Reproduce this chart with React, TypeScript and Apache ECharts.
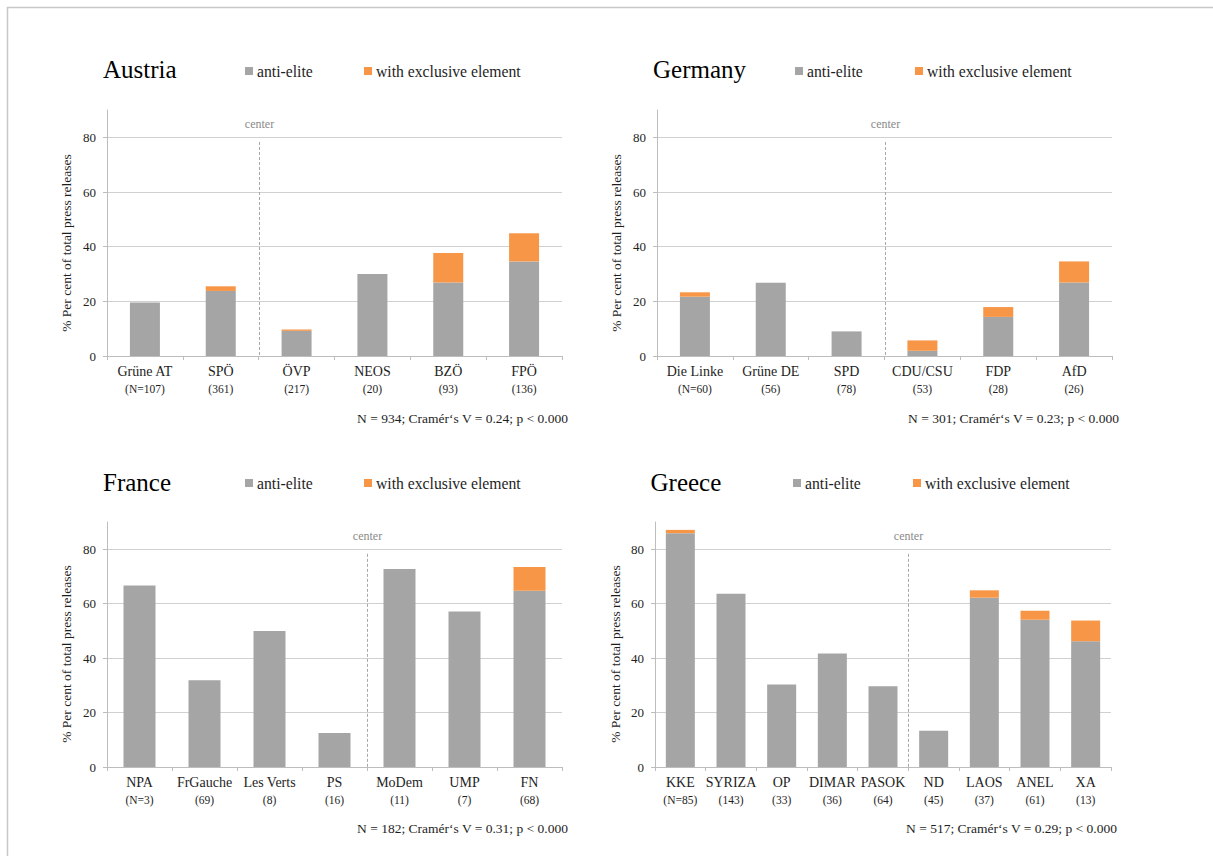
import React, { useEffect, useRef } from "react";
import * as echarts from "echarts";

// ---------- DATA ----------
const austriaParties = ["Grüne AT", "SPÖ", "ÖVP", "NEOS", "BZÖ", "FPÖ"];
const austriaN = ["(N=107)", "(361)", "(217)", "(20)", "(93)", "(136)"];
const austriaAntiElite = [19.6, 23.8, 9.2, 30.0, 26.9, 34.6];
const austriaExclusive = [0, 1.7, 0.5, 0, 10.8, 10.3];
const austriaNote = "N = 934; Cramér‘s V = 0.24; p < 0.000";

const germanyParties = ["Die Linke", "Grüne DE", "SPD", "CDU/CSU", "FDP", "AfD"];
const germanyN = ["(N=60)", "(56)", "(78)", "(53)", "(28)", "(26)"];
const germanyAntiElite = [21.7, 26.8, 9.0, 1.9, 14.3, 26.9];
const germanyExclusive = [1.6, 0, 0, 3.8, 3.6, 7.7];
const germanyNote = "N = 301; Cramér‘s V = 0.23; p < 0.000";

const franceParties = ["NPA", "FrGauche", "Les Verts", "PS", "MoDem", "UMP", "FN"];
const franceN = ["(N=3)", "(69)", "(8)", "(16)", "(11)", "(7)", "(68)"];
const franceAntiElite = [66.7, 31.9, 50.0, 12.5, 72.7, 57.1, 64.7];
const franceExclusive = [0, 0, 0, 0, 0, 0, 8.8];
const franceNote = "N = 182; Cramér‘s V = 0.31; p < 0.000";

const greeceParties = ["KKE", "SYRIZA", "OP", "DIMAR", "PASOK", "ND", "LAOS", "ANEL", "XA"];
const greeceN = ["(N=85)", "(143)", "(33)", "(36)", "(64)", "(45)", "(37)", "(61)", "(13)"];
const greeceAntiElite = [85.9, 63.6, 30.3, 41.7, 29.7, 13.3, 62.2, 54.1, 46.2];
const greeceExclusive = [1.2, 0, 0, 0, 0, 0, 2.7, 3.3, 7.6];
const greeceNote = "N = 517; Cramér‘s V = 0.29; p < 0.000";

const yTicks = [0, 20, 40, 60, 80];
const seriesNames = ["anti-elite", "with exclusive element"];
const yAxisTitle = "% Per cent of total press releases";
const centerLabel = "center";

// ---------- LAYOUT ----------
const FONT = "'Liberation Serif', 'Times New Roman', serif";
const GREY = "#a5a5a5";
const ORANGE = "#f79646";

const panels = [
  {
    name: "Austria", cats: austriaParties, ns: austriaN, anti: austriaAntiElite, excl: austriaExclusive, note: austriaNote,
    centerAfter: 1,
    grid: { left: 107, top: 110, width: 455, height: 246 },
    title: { left: 103, top: 57 }, legendY: 63, legendX: [245, 364],
    yName: [66.5, 243], noteXY: [568, 418], barWidth: 30,
  },
  {
    name: "Germany", cats: germanyParties, ns: germanyN, anti: germanyAntiElite, excl: germanyExclusive, note: germanyNote,
    centerAfter: 2,
    grid: { left: 657, top: 110, width: 455, height: 246 },
    title: { left: 653, top: 57 }, legendY: 63, legendX: [795, 915],
    yName: [616.5, 243], noteXY: [1119, 418], barWidth: 30,
  },
  {
    name: "France", cats: franceParties, ns: franceN, anti: franceAntiElite, excl: franceExclusive, note: franceNote,
    centerAfter: 3,
    grid: { left: 107, top: 522, width: 455, height: 245 },
    title: { left: 103, top: 469.5 }, legendY: 475, legendX: [245, 364],
    yName: [66.5, 654], noteXY: [568, 828.5], barWidth: 32,
  },
  {
    name: "Greece", cats: greeceParties, ns: greeceN, anti: greeceAntiElite, excl: greeceExclusive, note: greeceNote,
    centerAfter: 4,
    grid: { left: 655, top: 522, width: 456, height: 245 },
    title: { left: 650.5, top: 469.5 }, legendY: 475, legendX: [793, 913],
    yName: [615, 654], noteXY: [1117, 828.5], barWidth: 29,
  },
];

export default function App() {
  const ref = useRef<HTMLDivElement>(null);

  useEffect(() => {
    if (!ref.current) return;
    const chart = echarts.init(ref.current, undefined, { renderer: "svg" });

    const grids: any[] = [];
    const xAxes: any[] = [];
    const yAxes: any[] = [];
    const series: any[] = [];
    const titles: any[] = [];
    const legends: any[] = [];

    panels.forEach((p, i) => {
      grids.push({ ...p.grid, containLabel: false });
      xAxes.push({
        type: "category",
        gridIndex: i,
        data: p.cats,
        boundaryGap: true,
        axisLine: { show: true, lineStyle: { color: "#bdbdbd", width: 1 } },
        axisTick: { show: true, length: 4, lineStyle: { color: "#bdbdbd" } },
        axisLabel: {
          interval: 0,
          margin: 7,
          color: "#1e1e1e",
          fontFamily: FONT,
          formatter: (v: string, idx: number) => `{a|${v}}\n{b|${p.ns[idx]}}`,
          rich: {
            a: { fontSize: 14, lineHeight: 17, fontFamily: FONT, color: "#1e1e1e" },
            b: { fontSize: 11.5, lineHeight: 17, fontFamily: FONT, color: "#1e1e1e" },
          },
        },
        splitLine: { show: false },
      });
      yAxes.push({
        type: "value",
        gridIndex: i,
        min: yTicks[0],
        max: 90,
        interval: yTicks[1] - yTicks[0],
        axisLine: { show: true, lineStyle: { color: "#bdbdbd", width: 1 } },
        axisTick: { show: true, length: 4, lineStyle: { color: "#bdbdbd" } },
        axisLabel: {
          margin: 11,
          fontSize: 13,
          color: "#1e1e1e",
          fontFamily: FONT,
          showMaxLabel: false,
          formatter: (v: number) => (yTicks.includes(v) ? String(v) : ""),
        },
        splitLine: { show: true, showMaxLine: false, showMinLine: false, lineStyle: { color: "#d0d0d0", width: 1 } },
      });
      series.push({
        name: seriesNames[0],
        type: "bar",
        stack: "s" + i,
        xAxisIndex: i,
        yAxisIndex: i,
        barWidth: p.barWidth,
        data: p.anti,
        itemStyle: { color: GREY },
        emphasis: { disabled: true },
      });
      series.push({
        name: seriesNames[1],
        type: "bar",
        stack: "s" + i,
        xAxisIndex: i,
        yAxisIndex: i,
        barWidth: p.barWidth,
        data: p.excl,
        itemStyle: { color: ORANGE },
        emphasis: { disabled: true },
      });
      titles.push({
        text: p.name,
        left: p.title.left,
        top: p.title.top,
        padding: 0,
        textStyle: { fontSize: 25, fontWeight: "normal", color: "#000", fontFamily: FONT, lineHeight: 25 },
      });
      seriesNames.forEach((sn, k) => {
        legends.push({
          data: [sn],
          left: p.legendX[k],
          top: p.legendY,
          padding: 0,
          icon: "rect",
          itemWidth: 8,
          itemHeight: 8,
          itemGap: 0,
          selectedMode: false,
          textStyle: { fontSize: 15.7, color: "#1e1e1e", fontFamily: FONT, padding: [0, 0, 0, -1] },
        });
      });
    });

    chart.setOption({
      animation: false,
      backgroundColor: "#ffffff",
      textStyle: { fontFamily: FONT },
      title: titles,
      legend: legends,
      grid: grids,
      xAxis: xAxes,
      yAxis: yAxes,
      series,
    });

    const graphic: any[] = [
      { type: "line", silent: true, shape: { x1: 7, y1: 7.5, x2: 1213, y2: 7.5 }, style: { stroke: "#c8c8c8", lineWidth: 1.5 } },
      { type: "line", silent: true, shape: { x1: 7.5, y1: 7, x2: 7.5, y2: 856 }, style: { stroke: "#c8c8c8", lineWidth: 1.5 } },
    ];

    panels.forEach((p, i) => {
      const a = chart.convertToPixel({ xAxisIndex: i } as any, p.cats[p.centerAfter]) as unknown as number;
      const b = chart.convertToPixel({ xAxisIndex: i } as any, p.cats[p.centerAfter + 1]) as unknown as number;
      const x = Math.round((a + b) / 2) + 0.5;
      const yTop = chart.convertToPixel({ yAxisIndex: i } as any, 78.3) as unknown as number;
      const yBot = chart.convertToPixel({ yAxisIndex: i } as any, 0) as unknown as number;
      const yText = chart.convertToPixel({ yAxisIndex: i } as any, 84.8) as unknown as number;
      graphic.push({
        type: "line",
        silent: true,
        shape: { x1: x, y1: yTop, x2: x, y2: yBot },
        style: { stroke: "#a8a8a8", lineWidth: 1, lineDash: [3, 2] },
      });
      graphic.push({
        type: "text",
        silent: true,
        x,
        y: yText,
        style: {
          text: centerLabel,
          fontSize: 12,
          fontFamily: FONT,
          fill: "#8a8a8a",
          align: "center",
          verticalAlign: "middle",
        },
      });
      graphic.push({
        type: "text",
        silent: true,
        x: p.yName[0],
        y: p.yName[1],
        rotation: Math.PI / 2,
        style: {
          text: yAxisTitle,
          fontSize: 13.5,
          fontFamily: FONT,
          fill: "#1e1e1e",
          align: "center",
          verticalAlign: "middle",
        },
      });
      graphic.push({
        type: "text",
        silent: true,
        x: p.noteXY[0],
        y: p.noteXY[1],
        style: {
          text: p.note,
          fontSize: 13.5,
          fontFamily: FONT,
          fill: "#1e1e1e",
          align: "right",
          verticalAlign: "middle",
        },
      });
    });

    chart.setOption({ graphic });

    return () => {
      chart.dispose();
    };
  }, []);

  return (
    <div
      ref={ref}
      style={{ position: "fixed", left: 0, top: 0, width: 1213, height: 856, background: "#fff" }}
    />
  );
}
